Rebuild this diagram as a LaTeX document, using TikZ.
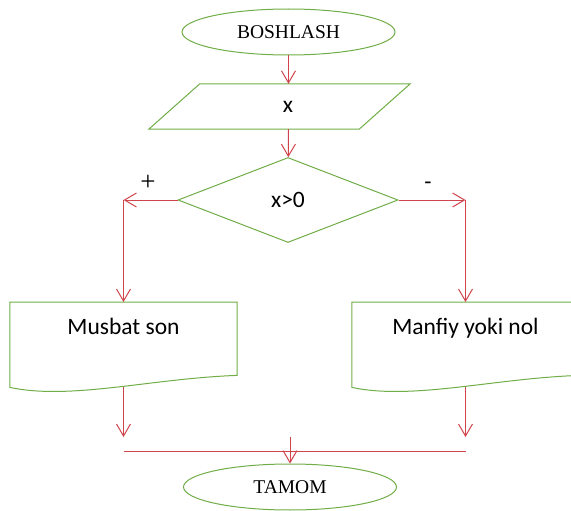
\documentclass[tikz,border=0pt]{standalone}
\usepackage{fontspec}
\setmainfont{Liberation Serif}
\newfontfamily\calfont{Carlito}
\usetikzlibrary{arrows.meta, positioning, shapes.geometric, calc}
\definecolor{shapegreen}{HTML}{70AD47}
\definecolor{linkred}{HTML}{D0454C}
\tikzset{
    terminal/.style={
        ellipse, draw=shapegreen, line width=1pt,
        minimum width=213pt, minimum height=46pt, inner sep=0pt,
        font=\fontsize{19.5}{22}\selectfont
    },
    inout/.style={
        rectangle, minimum width=261pt, minimum height=45pt, inner sep=0pt,
        font=\calfont\fontsize{23.5}{26}\selectfont
    },
    decision/.style={
        diamond, draw=shapegreen, line width=1pt,
        minimum width=220pt, minimum height=85pt, inner sep=0pt,
        font=\calfont\fontsize{23.5}{26}\selectfont
    },
    docbox/.style={
        rectangle, minimum width=227pt, inner sep=0pt,
        text height=32pt, text depth=53pt,
        font=\calfont\fontsize{23.5}{26}\selectfont
    },
    docline/.style={draw=shapegreen, line width=1pt},
    sign/.style={font=\calfont\fontsize{23.5}{26}\selectfont, inner sep=0pt},
    arrow/.style={-{Straight Barb[length=12pt, width=14pt]}, draw=linkred, line width=1pt},
    link/.style={draw=linkred, line width=1pt}
}
% outline of a parallelogram round an input node
\newcommand{\iooutline}[1]{
    \draw[docline] ([xshift=51pt]#1.north west) -- (#1.north east)
        -- ([xshift=-51pt]#1.south east) -- (#1.south west) -- cycle;
}
% outline of a document box: flat top, wavy bottom
\newcommand{\docoutline}[1]{
    \draw[docline] (#1.north west) -- (#1.north east)
        -- ([yshift=12pt]#1.south east)
        .. controls ([xshift=-86pt, yshift=9pt]#1.south east)
        and ([xshift=61pt, yshift=-13pt]#1.south west) .. (#1.south west)
        -- cycle;
}

\begin{document}
\begin{tikzpicture}[x=1pt, y=-1pt]
    \useasboundingbox (0,0) rectangle (571,511);
    \clip (0,0) rectangle (571,511);

    \node[terminal] (start) at (288.5,32) {BOSHLASH};
    \node[inout] (inp) at (279.5,106.5) {\hspace{17pt}x};
    \iooutline{inp}
    \node[decision] (dec) at (288,200) {x>0};

    \node[docbox, anchor=north] (pos) at (123.5,302) {Musbat son};
    \node[docbox, anchor=north] (neg) at (465.5,302) {Manfiy yoki nol};
    \docoutline{pos}
    \docoutline{neg}

    \node[terminal] (stop) at (290,487) {TAMOM};

    \node[sign, font=\fontsize{27}{30}\selectfont] (plus) at (148,183) {+};
    \node[sign] (minus) at (428,186) {-};

    \coordinate (plusturn) at (pos.north |- dec.west);
    \coordinate (minusturn) at (neg.north |- dec.east);
    \coordinate (posdown) at (123.5,437);
    \coordinate (negdown) at (465.5,437);
    \coordinate (mergel) at (123.5,451);
    \coordinate (merger) at (465.5,451);
    \coordinate (mergein) at (290,437);

    \draw[arrow] (start) -- (start |- inp.north);
    \draw[arrow] (inp.south -| start) -- (dec);
    \draw[arrow] (dec.west) -- (plusturn);
    \draw[arrow] (plusturn) -- (pos);
    \draw[arrow] (dec.east) -- (minusturn);
    \draw[arrow] (minusturn) -- (neg);
    \draw[arrow] (pos) -- (posdown);
    \draw[arrow] (neg) -- (negdown);
    \draw[link] (mergel) -- (merger);
    \draw[arrow] (mergein) -- (stop);
\end{tikzpicture}
\end{document}
